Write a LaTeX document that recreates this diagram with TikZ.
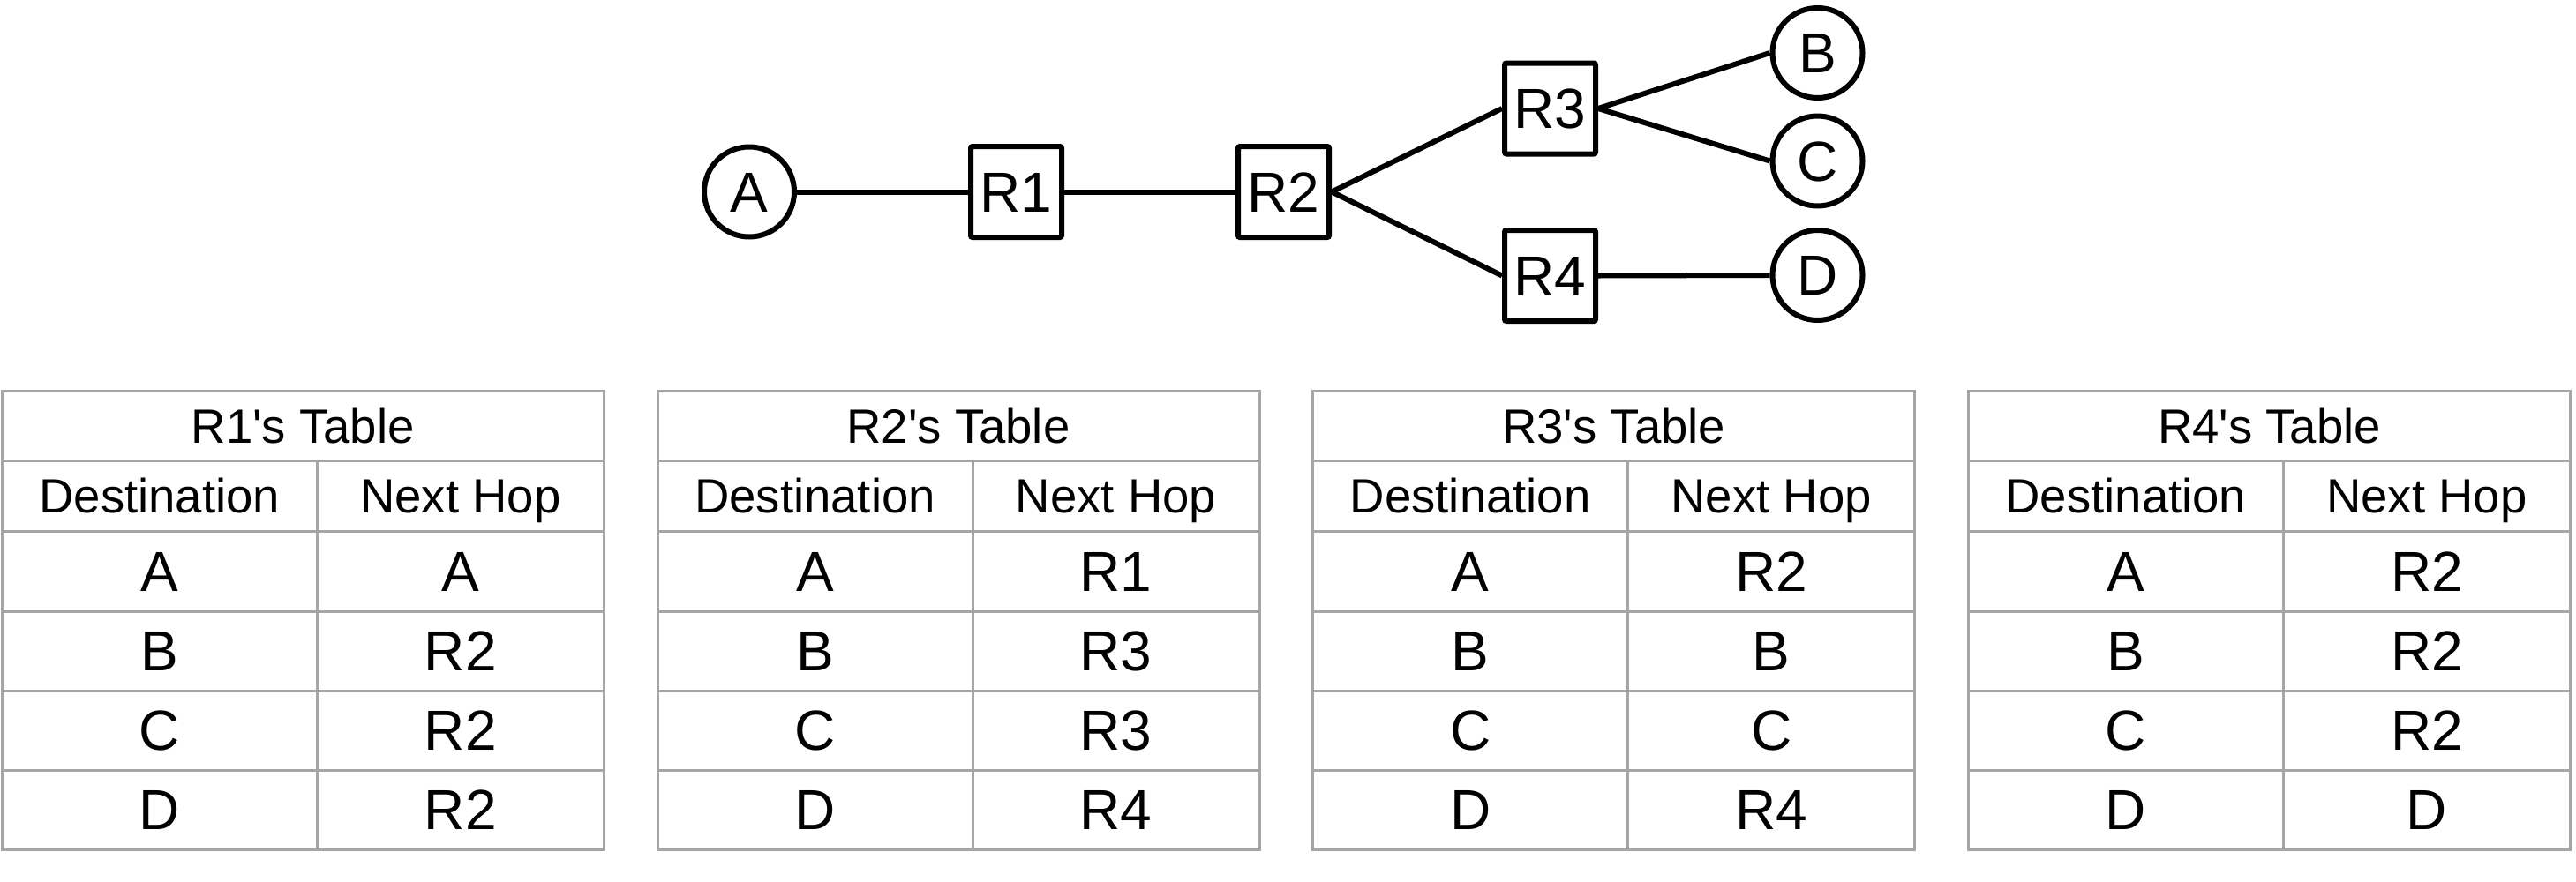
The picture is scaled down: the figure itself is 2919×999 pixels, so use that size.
\documentclass[tikz,border=0pt]{standalone}
\usepackage{fontspec}
\setmainfont{Liberation Sans}
\newfontfamily\plainsans{Liberation Sans}
\begin{document}
\begin{tikzpicture}[x=1pt,y=-1pt,
  hostnode/.style={circle,draw,line width=6pt,minimum size=102pt,inner sep=0pt,
    font=\fontsize{64}{70}\selectfont,text height=45.8pt,text depth=0pt},
  routernode/.style={rectangle,draw,line width=6pt,minimum size=103pt,inner sep=0pt,rounded corners=2pt,
    font=\fontsize{64}{70}\selectfont,text height=45.8pt,text depth=0pt},
  link/.style={line width=6pt},
  grid/.style={draw=black!35,line width=3pt},
  celltext/.style={inner sep=0pt,font=\fontsize{64}{70}\selectfont,text height=45.8pt,text depth=0pt},
  headtext/.style={inner sep=0pt,font=\plainsans\fontsize{54.5}{60}\selectfont,text height=39pt,text depth=0pt}]
\useasboundingbox (0,0) rectangle (2919,999);
% network
\node[hostnode] (A) at (849,217.5) {A};
\node[routernode] (R1) at (1151.5,217.5) {R1};
\node[routernode] (R2) at (1454.5,217.5) {R2};
\node[routernode] (R3) at (1756.5,123) {R3};
\node[routernode] (R4) at (1756.5,312.5) {R4};
\node[hostnode] (B) at (2059.5,60) {B};
\node[hostnode] (C) at (2059.5,182.5) {C};
\node[hostnode] (D) at (2059.5,312) {D};
\draw[link] (A.east) -- (R1.west);
\draw[link] (R1.east) -- (R2.west);
\draw[link] (R2.east) -- (R3.west);
\draw[link] (R2.east) -- (R4.west);
\draw[link] (R3.east) -- (B.west);
\draw[link] (R3.east) -- (C.west);
\draw[link] (R4.east) -- (D.west);
% tables
\foreach \i/\x/\a/\b/\c/\d in {1/2.3/A/R2/R2/R2, 2/745/R1/R3/R3/R4, 3/1487.7/R2/B/C/R4, 4/2230.4/R2/R2/R2/D}{
  \draw[grid] (\x,443) rectangle ++(682,520);
  \foreach \yy in {522,602,693,783,873}{
    \draw[grid] (\x,\yy) -- ++(682,0);
  }
  \draw[grid] (\x+357,522) -- (\x+357,963);
  \node[headtext] (head\i) at (\x+341,482.5) {R\i's Table};
  \node[headtext] (dest\i) at (\x+178.5,562) {Destination};
  \node[headtext] (hop\i) at (\x+519.5,562) {Next Hop};
  \node[celltext] (da\i) at (\x+178.5,647.5) {A};
  \node[celltext] (db\i) at (\x+178.5,738) {B};
  \node[celltext] (dc\i) at (\x+178.5,828) {C};
  \node[celltext] (dd\i) at (\x+178.5,918) {D};
  \node[celltext] (ha\i) at (\x+519.5,647.5) {\a};
  \node[celltext] (hb\i) at (\x+519.5,738) {\b};
  \node[celltext] (hc\i) at (\x+519.5,828) {\c};
  \node[celltext] (hd\i) at (\x+519.5,918) {\d};
}
\end{tikzpicture}
\end{document}
